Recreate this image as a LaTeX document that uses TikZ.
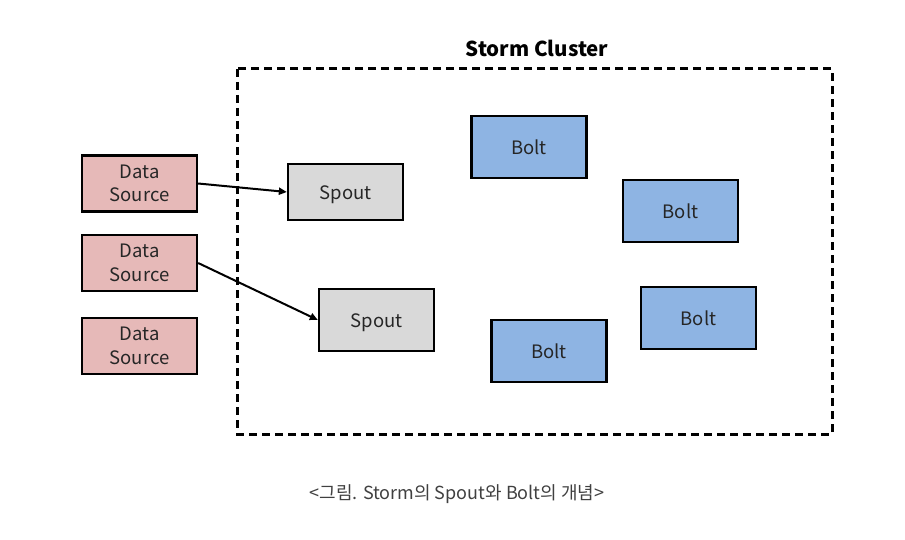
\documentclass[tikz,border=0pt]{standalone}
\usepackage{fontspec}
\setmainfont{Noto Sans CJK KR}
\usetikzlibrary{arrows.meta}
\definecolor{dsfill}{HTML}{E6B9B8}
\definecolor{spfill}{HTML}{D9D9D9}
\definecolor{btfill}{HTML}{8EB4E3}
\definecolor{captxt}{HTML}{404040}
\tikzset{
  box/.style={draw=black, line width=2.3pt, minimum width=115pt, inner sep=0pt, align=center, font=\fontsize{18.5}{23.5}\selectfont, text=black!85},
  oneline/.style={text height=17pt, text depth=1.5pt},
  dsbox/.style={box, fill=dsfill, minimum height=56pt},
  spbox/.style={box, oneline, fill=spfill, minimum height=56pt},
  btbox/.style={box, oneline, fill=btfill, minimum height=62pt},
  conn/.style={line width=2pt, -{Triangle[length=8pt,width=7pt]}},
}
\begin{document}
\begin{tikzpicture}[x=1pt,y=-1pt]
\useasboundingbox (0,0) rectangle (905,540);
\draw[line width=3pt, dash pattern=on 8pt off 5pt] (237,69) rectangle (832,434);
\node[font=\bfseries\fontsize{20.5}{24}\selectfont] (title) at (537,48) {Storm Cluster};
\node[dsbox] (ds1) at (139.5,183.5) {Data\\Source};
\node[dsbox] (ds2) at (139.5,263) {Data\\Source};
\node[dsbox] (ds3) at (139.5,346) {Data\\Source};
\node[spbox] (sp1) at (345.5,192) {Spout};
\node[btbox, fill=spfill] (sp2) at (376.5,320) {Spout};
\node[btbox] (b1) at (529,147) {Bolt};
\node[btbox] (b2) at (680.5,211) {Bolt};
\node[btbox] (b3) at (698.5,318) {Bolt};
\node[btbox] (b4) at (549,351) {Bolt};
\draw[conn] (ds1.east) -- (sp1.west);
\draw[conn] (ds2.east) -- (sp2.west);
\node[text=captxt, font=\fontsize{18}{22}\selectfont] (cap) at (457,494) {<그림. Storm의 Spout와 Bolt의 개념>};
\end{tikzpicture}
\end{document}
